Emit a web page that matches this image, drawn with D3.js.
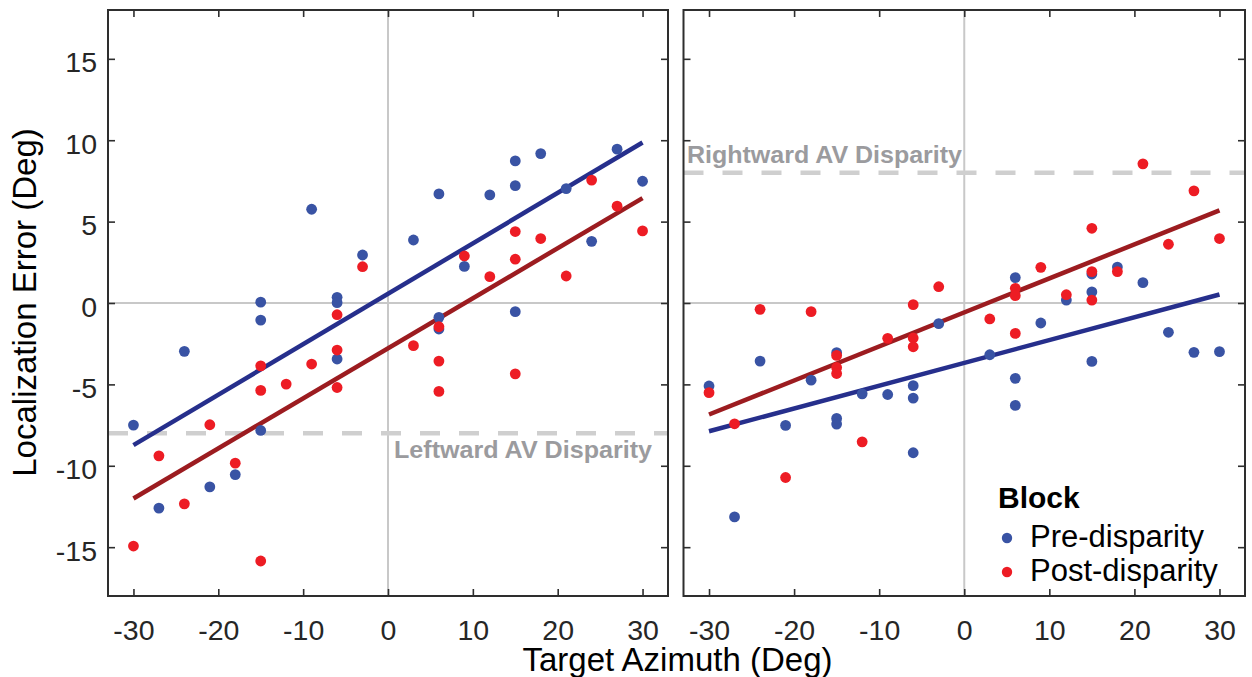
<!DOCTYPE html>
<html>
<head>
<meta charset="utf-8">
<script src="https://cdnjs.cloudflare.com/ajax/libs/d3/7.8.5/d3.min.js"></script>
<style>
    body { margin: 0; background: #fff; }
    svg { display: block; font-family: Arial, "Liberation Sans", Helvetica, sans-serif; }
</style>
</head>
<body>
<div id="graph"></div>
<script>
const w = 1252;
const h = 677;

// values
const xTicks = [-30, -20, -10, 0, 10, 20, 30];
const yTicks = [-15, -10, -5, 0, 5, 10, 15];
const fitX = [-30, 30];

const blockNames = ["Pre-disparity", "Post-disparity"];
const disparityLevels = [-8, 8];
const disparityLabels = ["Leftward AV Disparity", "Rightward AV Disparity"];

// [azimuth, error]
const leftPre = [
    [-30, -7.5], [-27, -12.6], [-24, -2.97], [-21, -11.3], [-18, -10.54],
    [-15, 0.05], [-15, -1.05], [-15, -7.83], [-9, 5.76], [-6, 0.35], [-6, 0.02],
    [-6, -3.44], [-3, 2.95], [3, 3.87], [6, 6.7], [6, -0.88], [6, -1.6], [9, 2.25],
    [12, 6.64], [15, 8.73], [15, 7.21], [15, -0.53], [18, 9.18], [21, 7.03],
    [24, 3.79], [27, 9.45], [30, 7.48]
];
const leftPost = [
    [-30, -14.93], [-27, -9.39], [-24, -12.34], [-21, -7.48], [-18, -9.84],
    [-15, -3.86], [-15, -5.37], [-15, -15.85], [-12, -4.98], [-9, -3.75],
    [-6, -0.72], [-6, -2.89], [-6, -5.19], [-3, 2.23], [3, -2.62], [6, -1.46],
    [6, -3.57], [6, -5.43], [9, 2.89], [12, 1.62], [15, 4.39], [15, 2.69],
    [15, -4.35], [18, 3.96], [21, 1.66], [24, 7.55], [27, 5.95], [30, 4.43]
];
const rightPre = [
    [-30, -5.1], [-27, -13.14], [-24, -3.57], [-21, -7.52], [-18, -4.74],
    [-15, -3.05], [-15, -7.09], [-15, -7.44], [-12, -5.58], [-9, -5.62],
    [-6, -5.08], [-6, -5.84], [-6, -9.2], [-3, -1.27], [3, -3.18], [6, 1.56],
    [6, -4.63], [6, -6.29], [9, -1.23], [12, 0.18], [15, 1.78], [15, 0.68],
    [15, -3.59], [18, 2.21], [21, 1.25], [24, -1.8], [27, -3.03], [30, -2.99]
];
const rightPost = [
    [-30, -5.51], [-27, -7.42], [-24, -0.39], [-21, -10.72], [-18, -0.53],
    [-15, -3.22], [-15, -3.96], [-15, -4.33], [-12, -8.53], [-9, -2.17],
    [-6, -0.1], [-6, -2.15], [-6, -2.69], [-3, 1.0], [3, -0.98], [6, 0.9],
    [6, 0.45], [6, -1.87], [9, 2.19], [12, 0.51], [15, 4.59], [15, 1.93],
    [15, 0.18], [18, 1.93], [21, 8.55], [24, 3.61], [27, 6.89], [30, 3.96]
];

// fitted line, error at azimuth -30 and +30
const leftPreFit = [-8.73, 9.86];
const leftPostFit = [-12.01, 6.44];
const rightPreFit = [-7.88, 0.52];
const rightPostFit = [-6.85, 5.69];

const dotColors = ["#3953a4", "#ed1c24"];
const lineColors = ["#262f8c", "#9c1c20"];
const frameColor = "#2e2e2e";

// plain hyphen minus like the original
const tickText = function(d) { return String(d); };

const svg = d3.select("#graph")
    .append("svg")
    .attr("width", w)
    .attr("height", h);

const y = d3.scaleLinear()
    .domain([-18, 18])
    .range([596, 10]);

const xLeft = d3.scaleLinear()
    .domain([-33, 33])
    .range([108, 668]);

const xRight = d3.scaleLinear()
    .domain([-33, 33])
    .range([683.5, 1245]);

let drawPanel = function(x, pre, post, preFit, postFit, level, label, labelX, labelY, labelLen, yLabels) {

    let g = svg.append("g");
    let x0 = x.range()[0], x1 = x.range()[1];
    let y0 = y.range()[1], y1 = y.range()[0];

    // zero lines
    g.append("line")
        .attr("x1", x(0)).attr("x2", x(0))
        .attr("y1", y0).attr("y2", y1)
        .style("stroke", "#c8c8c8")
        .style("stroke-width", 2);
    g.append("line")
        .attr("x1", x0).attr("x2", x1)
        .attr("y1", y(0)).attr("y2", y(0))
        .style("stroke", "#c8c8c8")
        .style("stroke-width", 2);

    // disparity line
    g.append("line")
        .attr("x1", x0).attr("x2", x1)
        .attr("y1", y(level)).attr("y2", y(level))
        .style("stroke", "#cfcfcf")
        .style("stroke-width", 4.5)
        .style("stroke-dasharray", "20,19");

    g.append("text")
        .attr("x", labelX)
        .attr("y", labelY)
        .attr("textLength", labelLen)
        .attr("lengthAdjust", "spacingAndGlyphs")
        .style("font-size", "24.5px")
        .style("font-weight", "bold")
        .style("fill", "#9b9b9e")
        .text(label);

    // fit lines
    [preFit, postFit].forEach(function(f, i) {
        g.append("line")
            .attr("x1", x(fitX[0])).attr("y1", y(f[0]))
            .attr("x2", x(fitX[1])).attr("y2", y(f[1]))
            .style("stroke", lineColors[i])
            .style("stroke-width", 4.5);
    });

    // dots
    [pre, post].forEach(function(pts, i) {
        g.append("g")
            .selectAll("circle")
            .data(pts)
            .enter()
            .append("circle")
            .attr("cx", function(d) { return x(d[0]); })
            .attr("cy", function(d) { return y(d[1]); })
            .attr("r", 5.4)
            .style("fill", dotColors[i]);
    });

    // axes, ticks pointing inwards
    let bottom = g.append("g")
        .attr("transform", "translate(0," + y1 + ")")
        .call(d3.axisBottom(x).tickValues(xTicks).tickSize(-7).tickSizeOuter(0).tickPadding(24)
            .tickFormat(tickText));
    let top = g.append("g")
        .attr("transform", "translate(0," + y0 + ")")
        .call(d3.axisTop(x).tickValues(xTicks).tickSize(-7).tickSizeOuter(0).tickFormat(""));
    let left = g.append("g")
        .attr("transform", "translate(" + x0 + ",0)")
        .call(d3.axisLeft(y).tickValues(yTicks).tickSize(-7).tickSizeOuter(0).tickPadding(11)
            .tickFormat(yLabels ? tickText : ""));
    let right = g.append("g")
        .attr("transform", "translate(" + x1 + ",0)")
        .call(d3.axisRight(y).tickValues(yTicks).tickSize(-7).tickSizeOuter(0).tickFormat(""));

    [bottom, top, left, right].forEach(function(a) {
        a.select(".domain").remove();
        a.selectAll(".tick line").style("stroke", frameColor).style("stroke-width", 1.6);
        a.selectAll("text")
            .style("font-size", "28.5px")
            .style("fill", "#262626")
            .style("font-family", "Arial, 'Liberation Sans', sans-serif");
    });
    left.selectAll("text").attr("dy", "0.46em");

    g.append("rect")
        .attr("x", x0).attr("y", y0)
        .attr("width", x1 - x0).attr("height", y1 - y0)
        .style("fill", "none")
        .style("stroke", frameColor)
        .style("stroke-width", 2);

    return g;
};

drawPanel(xLeft, leftPre, leftPost, leftPreFit, leftPostFit,
    disparityLevels[0], disparityLabels[0], 394, 458, 258, true);
let rightPanel = drawPanel(xRight, rightPre, rightPost, rightPreFit, rightPostFit,
    disparityLevels[1], disparityLabels[1], 687, 163, 275, false);

// legend
rightPanel.append("text")
    .attr("x", 998)
    .attr("y", 508)
    .style("font-size", "30px")
    .style("font-weight", "bold")
    .text("Block");

blockNames.forEach(function(name, i) {
    rightPanel.append("circle")
        .attr("cx", 1007)
        .attr("cy", 538 + i * 34)
        .attr("r", 5.2)
        .style("fill", dotColors[i]);
    rightPanel.append("text")
        .attr("x", 1030)
        .attr("y", 547 + i * 34)
        .style("font-size", "31px")
        .text(name);
});

// axis titles
svg.append("text")
    .attr("transform", "translate(36,302.5) rotate(-90)")
    .attr("text-anchor", "middle")
    .style("font-size", "33px")
    .text("Localization Error (Deg)");

svg.append("text")
    .attr("x", 677.5)
    .attr("y", 671)
    .attr("text-anchor", "middle")
    .style("font-size", "33px")
    .text("Target Azimuth (Deg)");
</script>
</body>
</html>
